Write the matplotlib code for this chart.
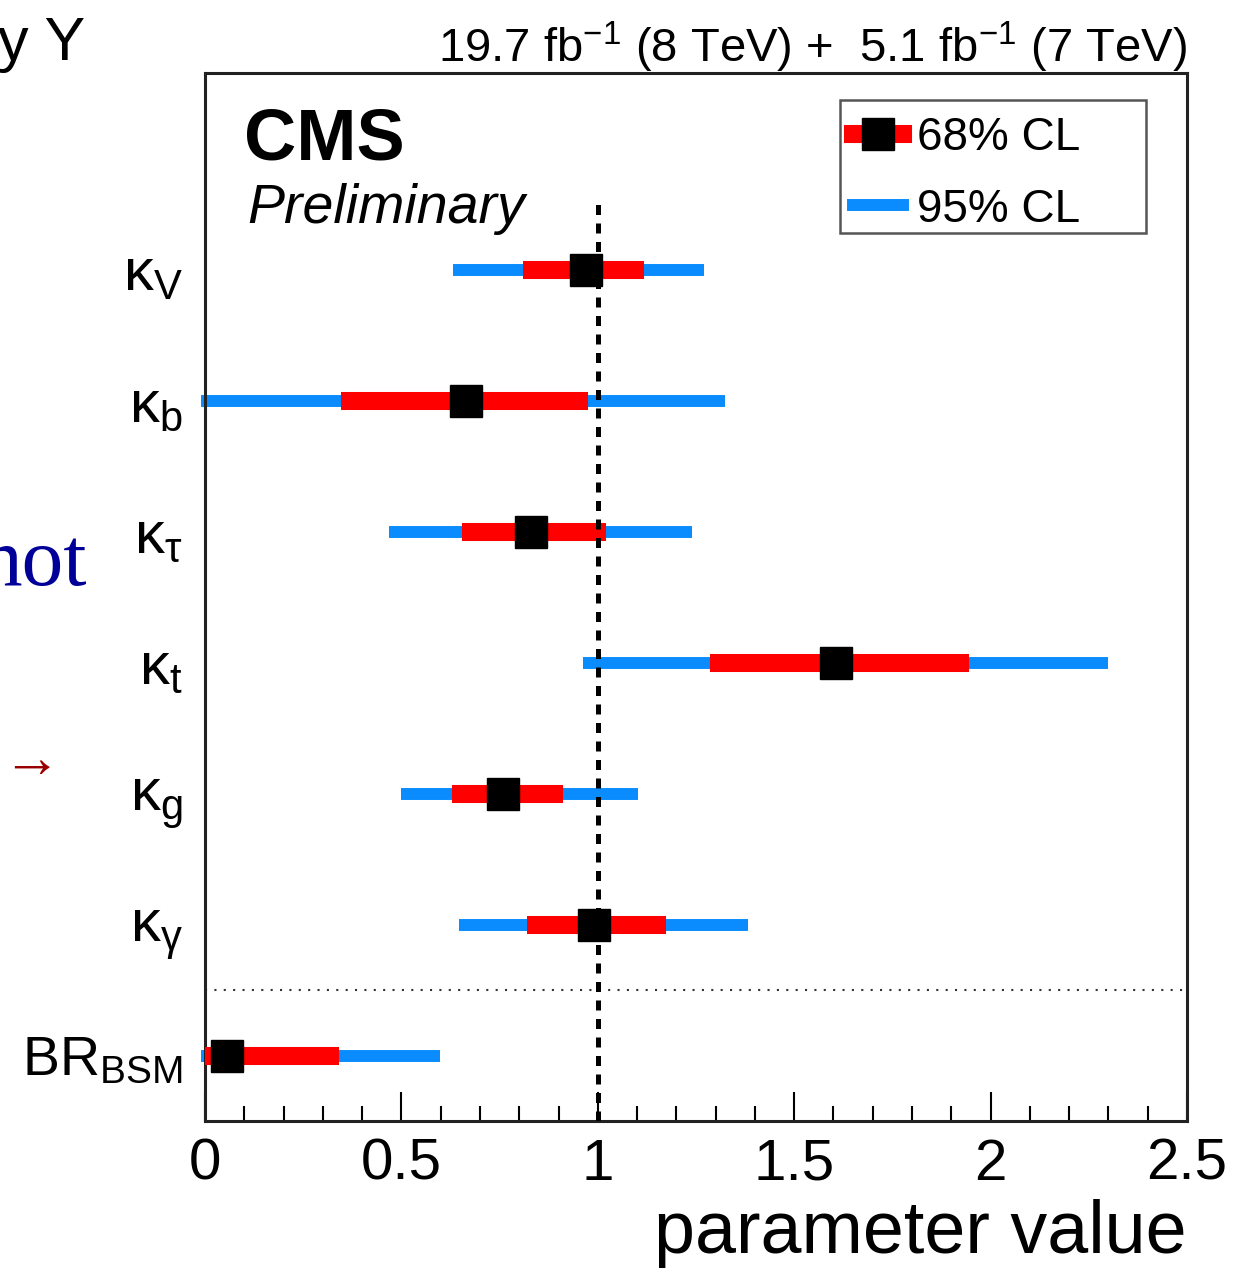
import matplotlib
matplotlib.use("Agg")
import matplotlib.pyplot as plt
from matplotlib.lines import Line2D
from matplotlib.patches import Rectangle

plt.rcParams['font.family'] = ['Liberation Sans', 'DejaVu Sans']
plt.rcParams['mathtext.fontset'] = 'custom'
plt.rcParams['mathtext.rm'] = 'Liberation Sans'
plt.rcParams['mathtext.it'] = 'Liberation Sans:italic'

# coupling modifiers, top to bottom
params = [r'$\mathregular{\kappa_{V}}$', r'$\mathregular{\kappa_{b}}$', r'$\mathregular{\kappa_{\tau}}$',
          r'$\mathregular{\kappa_{t}}$', r'$\mathregular{\kappa_{g}}$', r'$\mathregular{\kappa_{\gamma}}$',
          r'$\mathregular{BR_{BSM}}$']
best = [0.97, 0.664, 0.830, 1.606, 0.759, 0.990, 0.056]
lo68 = [0.810, 0.346, 0.654, 1.286, 0.629, 0.820, 0.0]
hi68 = [1.118, 0.975, 1.021, 1.945, 0.911, 1.174, 0.341]
lo95 = [0.631, -0.01, 0.468, 0.962, 0.499, 0.647, -0.01]
hi95 = [1.270, 1.324, 1.240, 2.299, 1.102, 1.382, 0.598]

BLUE = '#0a8cff'
RED = '#ff0000'

fig = plt.figure(figsize=(12.39, 12.71), dpi=100)
ax = fig.add_axes([205/1239, 1 - 1121/1271, 982/1239, 1048/1271])

n = len(params)
ypos = [n - 0.5 - i for i in range(n)]

for y, b, l1, h1, l2, h2 in zip(ypos, best, lo68, hi68, lo95, hi95):
    ax.plot([l2, h2], [y, y], color=BLUE, lw=8.6, solid_capstyle='butt', zorder=2, clip_on=False)
    ax.plot([l1, h1], [y, y], color=RED, lw=13, solid_capstyle='butt', zorder=3)
    ax.plot([b], [y], marker='s', ms=23, color='black', zorder=5, clip_on=False)

# SM expectation and separator
ax.plot([1, 1], [0, 7], color='black', lw=3.6, ls=(0, (2.0, 1.7)), zorder=4)
ax.plot([0, 2.49], [1, 1], color='#333333', lw=1.5, ls=(0, (1, 3.5)), zorder=1)

ax.set_xlim(0, 2.5)
ax.set_ylim(0, 8)
ax.set_xticks([0, 0.5, 1, 1.5, 2, 2.5])
ax.set_xticklabels(['0', '0.5', '1', '1.5', '2', '2.5'])
ax.set_xticks([i / 10 for i in range(26)], minor=True)
ax.tick_params(axis='x', which='major', direction='in', length=21, width=1.5, labelsize=42, pad=12)
ax.tick_params(axis='x', which='minor', direction='in', length=11, width=1.5)
ax.set_yticks(ypos)
ax.set_yticklabels(params)
ax.tick_params(axis='y', length=0, pad=16)
for i, lab in enumerate(ax.get_yticklabels()):
    lab.set_fontsize(40 if i == n - 1 else 43)
for s in ax.spines.values():
    s.set_linewidth(2.2)
    s.set_color('#222222')

ax.set_xlabel('parameter value', fontsize=53, loc='right', labelpad=5)

ax.text(0.04, 0.968, 'CMS', transform=ax.transAxes, fontsize=52, fontweight='bold', va='top')
ax.text(0.043, 0.895, 'Preliminary', transform=ax.transAxes, fontsize=40, style='italic', va='top')

# legend box drawn separately so it can be wider than its entries
fig.patches.append(Rectangle((840/1239, 1 - 233/1271), 306/1239, 133/1271,
                             transform=fig.transFigure, fill=False,
                             edgecolor='#555555', lw=1.8, zorder=6))
handles = [Line2D([], [], color=RED, lw=13, marker='s', ms=23, mfc='black', mec='black'),
           Line2D([], [], color=BLUE, lw=8.6)]
leg = ax.legend(handles, ['68% CL', '95% CL'], loc='upper left',
                bbox_to_anchor=((853 - 205) / 982, 1 - (116 - 73) / 1048),
                fontsize=33, frameon=False, handlelength=1.1, handletextpad=0.3,
                borderpad=0, labelspacing=0.6, borderaxespad=0)

fig.text(1187/1239, 1 - 62/1271,
         r'19.7 fb$^{\mathregular{-1}}$ (8 TeV) +  5.1 fb$^{\mathregular{-1}}$ (7 TeV)',
         fontsize=34, ha='right', va='baseline')

# slide text around the plot
fig.text(85/1239, 1 - 60/1271, 'y Y', fontsize=44, ha='right', va='baseline')
fig.text(87/1239, 1 - 585/1271, 'not', fontsize=60, ha='right', va='baseline',
         color='#000099', family=['Liberation Serif', 'DejaVu Serif'])
fig.text(2/1239, 1 - 777/1271, '→', fontsize=42, ha='left', va='baseline',
         color='#990000', family=['Liberation Serif', 'DejaVu Serif'])

fig.savefig('out.png', dpi=100)
